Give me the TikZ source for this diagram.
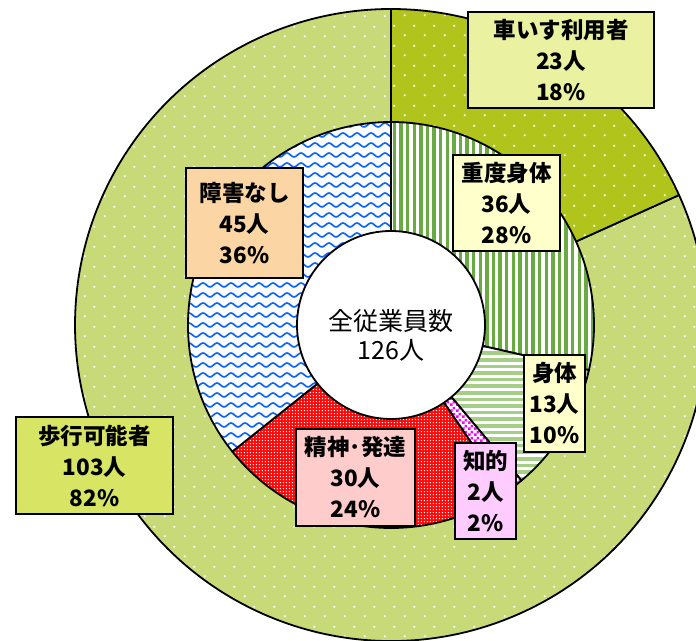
\documentclass[tikz,border=0pt]{standalone}
\usepackage{fontspec}
\setmainfont{Noto Sans CJK JP}
\usetikzlibrary{patterns}

\definecolor{walkbase}{RGB}{200,217,120}
\definecolor{wheelbase}{RGB}{176,196,28}
\definecolor{heavygreen}{RGB}{106,170,66}
\definecolor{bodygreen}{RGB}{165,207,135}
\definecolor{mentalred}{RGB}{255,10,10}
\definecolor{intelmag}{RGB}{255,0,255}
\definecolor{noneblue}{RGB}{10,100,255}
\definecolor{boxwheel}{RGB}{234,241,160}
\definecolor{boxyellow}{RGB}{255,255,204}
\definecolor{boxpeach}{RGB}{252,213,165}
\definecolor{boxwalk}{RGB}{216,228,100}
\definecolor{boxpink}{RGB}{255,204,204}
\definecolor{boxmag}{RGB}{255,204,255}

\pgfdeclarepatternformonly{sparsedots}{\pgfpointorigin}{\pgfpoint{20pt}{20pt}}{\pgfpoint{20pt}{20pt}}{%
  \pgfpathrectangle{\pgfpoint{4pt}{4pt}}{\pgfpoint{1.8pt}{1.8pt}}%
  \pgfpathrectangle{\pgfpoint{14pt}{14pt}}{\pgfpoint{1.8pt}{1.8pt}}%
  \pgfusepath{fill}}
\pgfdeclarepatternformonly{finedots}{\pgfpointorigin}{\pgfpoint{3pt}{3pt}}{\pgfpoint{3pt}{3pt}}{%
  \pgfpathrectangle{\pgfpoint{1pt}{1pt}}{\pgfpoint{1.4pt}{1.4pt}}%
  \pgfusepath{fill}}
\pgfdeclarepatternformonly{mychecker}{\pgfpointorigin}{\pgfpoint{6pt}{6pt}}{\pgfpoint{6pt}{6pt}}{%
  \pgfpathrectangle{\pgfpoint{0pt}{0pt}}{\pgfpoint{3pt}{3pt}}%
  \pgfpathrectangle{\pgfpoint{3pt}{3pt}}{\pgfpoint{3pt}{3pt}}%
  \pgfusepath{fill}}
\pgfdeclarepatternformonly{mywaves}{\pgfpoint{-1pt}{-1pt}}{\pgfpoint{15pt}{11pt}}{\pgfpoint{14pt}{10pt}}{%
  \pgfsetlinewidth{1.7pt}%
  \pgfpathmoveto{\pgfpoint{0pt}{3pt}}%
  \pgfpathcurveto{\pgfpoint{2.5pt}{3pt}}{\pgfpoint{4.5pt}{7pt}}{\pgfpoint{7pt}{7pt}}%
  \pgfpathcurveto{\pgfpoint{9.5pt}{7pt}}{\pgfpoint{11.5pt}{3pt}}{\pgfpoint{14pt}{3pt}}%
  \pgfusepath{stroke}}

\newcommand\mypie[3]{(0,0) -- (#1:#3) arc[start angle=#1,end angle=#2,radius=#3] -- cycle}

\tikzset{
  edge/.style={draw=black, line width=1.8pt, line join=round},
  lbl/.style={draw=black, line width=1.5pt, inner sep=0pt, align=center,
    font=\bfseries\fontsize{22.5}{31}\selectfont},
  ctr/.style={inner sep=0pt, align=center, font=\fontsize{25}{29}\selectfont}
}

\begin{document}
\begin{tikzpicture}[x=1pt,y=1pt]
\useasboundingbox (0,0) rectangle (696,640);
\clip (0,0) rectangle (696,640);
\fill[white] (0,0) rectangle (696,640);
\begin{scope}[shift={(391,315)}]
  % outer ring
  \fill[walkbase] \mypie{24.29}{-270}{316pt};
  \fill[pattern=sparsedots, pattern color=white] \mypie{24.29}{-270}{316pt};
  \path[edge] \mypie{24.29}{-270}{316pt};
  \fill[wheelbase] \mypie{90}{24.29}{316pt};
  \fill[pattern=sparsedots, pattern color=white] \mypie{90}{24.29}{316pt};
  \path[edge] \mypie{90}{24.29}{316pt};
  % inner ring: heavy physical (vertical stripes)
  \fill[white] \mypie{90}{-12.86}{203pt};
  \begin{scope}
    \clip \mypie{90}{-12.86}{203pt};
    \foreach \i in {0,...,31} \fill[heavygreen] (\i*6.6+1.8,-60) rectangle ++(3.3,270);
  \end{scope}
  \path[edge] \mypie{90}{-12.86}{203pt};
  % physical (horizontal stripes)
  \fill[white] \mypie{-12.86}{-50}{203pt};
  \begin{scope}
    \clip \mypie{-12.86}{-50}{203pt};
    \foreach \i in {0,...,26} \fill[bodygreen] (0,-\i*6.6) rectangle ++(210,-3.6);
  \end{scope}
  \path[edge] \mypie{-12.86}{-50}{203pt};
  % intellectual
  \fill[white] \mypie{-50}{-55.71}{203pt};
  \fill[pattern=mychecker, pattern color=intelmag] \mypie{-50}{-55.71}{203pt};
  \path[edge] \mypie{-50}{-55.71}{203pt};
  % mental
  \fill[mentalred] \mypie{-55.71}{-141.43}{203pt};
  \fill[pattern=finedots, pattern color=white] \mypie{-55.71}{-141.43}{203pt};
  \path[edge] \mypie{-55.71}{-141.43}{203pt};
  % none
  \fill[white] \mypie{-141.43}{-270}{203pt};
  \fill[pattern=mywaves, pattern color=noneblue] \mypie{-141.43}{-270}{203pt};
  \path[edge] \mypie{-141.43}{-270}{203pt};
  % centre hole
  \path[edge, fill=white] (0,0) circle[radius=94pt];
\end{scope}

\node[ctr] (total) at (391,305) {全従業員数\\126人};

\node[lbl, fill=boxwheel, minimum width=186pt, minimum height=96pt] (wheel) at (561,580) {車いす利用者\\23人\\18\%};
\node[lbl, fill=boxyellow, minimum width=107pt, minimum height=96pt] (heavy) at (506.5,437) {重度身体\\36人\\28\%};
\node[lbl, fill=boxpeach, minimum width=117pt, minimum height=110pt] (none) at (244.5,417) {障害なし\\45人\\36\%};
\node[lbl, fill=boxwalk, minimum width=157pt, minimum height=97pt] (walk) at (94.5,174.5) {歩行可能者\\103人\\82\%};
\node[lbl, fill=boxpink, minimum width=119pt, minimum height=97pt] (mental) at (355.5,162.5) {精神･発達\\30人\\24\%};
\node[lbl, fill=boxmag, minimum width=61pt, minimum height=96pt] (intel) at (485.5,149) {知的\\2人\\2\%};
\node[lbl, fill=boxyellow, minimum width=61pt, minimum height=97pt] (body) at (554.5,236.5) {身体\\13人\\10\%};
\end{tikzpicture}
\end{document}
